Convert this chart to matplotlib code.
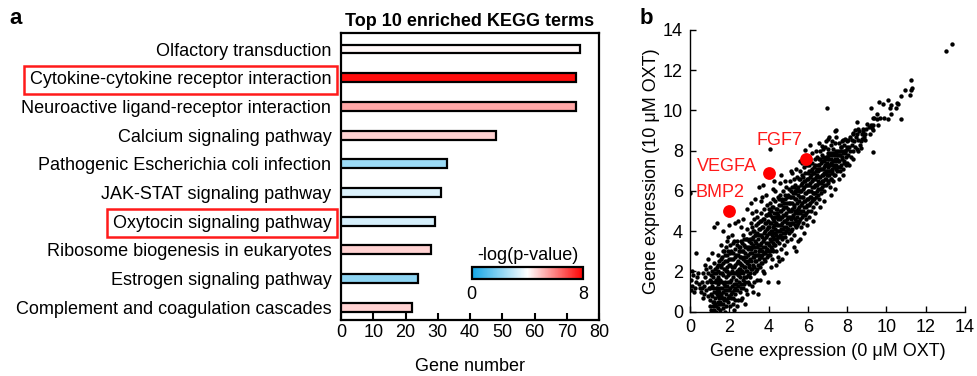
import matplotlib
matplotlib.use("Agg")
import matplotlib.pyplot as plt
import numpy as np
from matplotlib.colors import LinearSegmentedColormap, Normalize
from matplotlib.cm import ScalarMappable

plt.rcParams['font.family'] = ['Liberation Sans', 'DejaVu Sans']

# ---------------- data: panel a ----------------
kegg_terms = [
    "Olfactory transduction",
    "Cytokine-cytokine receptor interaction",
    "Neuroactive ligand-receptor interaction",
    "Calcium signaling pathway",
    "Pathogenic Escherichia coli infection",
    "JAK-STAT signaling pathway",
    "Oxytocin signaling pathway",
    "Ribosome biogenesis in eukaryotes",
    "Estrogen signaling pathway",
    "Complement and coagulation cascades",
]
gene_number = [74, 73, 73, 48, 33, 31, 29, 28, 24, 22]
neg_log_p = [4.1, 7.8, 5.4, 4.7, 2.3, 3.4, 3.3, 4.7, 2.1, 4.7]
highlighted_terms = ["Cytokine-cytokine receptor interaction", "Oxytocin signaling pathway"]
bar_xticks = [0, 10, 20, 30, 40, 50, 60, 70, 80]

# ---------------- data: panel b ----------------
expr_low = [
    (0.05,1.1),(0.1,1.3),(0.05,1.6),(0.15,1.8),(0.3,1.5),(0.25,1.2),(0.4,1.9),(0.45,1.4),(0.3,2.9),(0.0,5.9),
    (0.2,1.0),(0.35,1.7),(0.1,2.0),(0.5,1.2),
    (0.55,1.0),(0.6,1.5),(0.65,1.9),(0.7,0.9),(0.7,1.3),(0.75,1.7),(0.8,1.1),(0.8,2.1),(0.85,1.5),(0.9,0.8),
    (0.9,1.9),(0.95,1.2),(1.0,1.6),(0.6,1.2),(0.75,2.3),(0.9,2.6),(0.65,0.7),
    (1.0,0.3),(1.05,0.9),(1.1,1.3),(1.1,2.0),(1.15,0.5),(1.15,1.7),(1.2,0.1),(1.2,1.0),(1.2,2.4),(1.25,0.7),
    (1.25,1.5),(1.3,0.3),(1.3,1.2),(1.3,1.9),(1.35,0.9),(1.35,2.2),(1.4,0.5),(1.4,1.4),(1.4,1.7),(1.45,0.2),
    (1.45,1.1),(1.45,2.0),(1.5,0.7),(1.5,1.5),(1.5,2.5),(1.05,1.5),(1.12,2.9),(1.2,4.2),(1.38,4.4),(1.3,0.0),
    (1.42,2.8),(1.0,1.2),(1.18,0.3),(1.33,1.6),(1.48,1.0),
    (1.55,0.1),(1.55,1.2),(1.55,1.9),(1.6,0.4),(1.6,0.9),(1.6,2.3),(1.65,1.5),(1.65,2.7),(1.7,0.2),(1.7,1.0),
    (1.7,1.8),(1.75,0.6),(1.75,2.1),(1.75,3.0),(1.8,1.3),(1.8,2.5),(1.85,0.3),(1.85,0.9),(1.85,1.7),(1.9,2.2),
    (1.9,2.8),(1.9,1.1),(1.95,0.5),(1.95,1.5),(2.0,1.9),(2.0,2.6),(2.0,0.8),(1.6,3.3),(1.7,4.0),(1.9,3.5),
    (1.8,0.0),(1.65,0.7),(1.82,3.2),(1.58,2.6),(1.72,1.4),(1.88,2.0),(1.95,3.7),(2.0,4.3),
    (2.05,0.3),(2.05,1.2),(2.05,2.3),(2.1,0.7),(2.1,1.6),(2.1,3.0),(2.15,2.0),(2.15,1.0),(2.2,0.4),(2.2,2.6),
    (2.2,3.4),(2.25,1.4),(2.25,1.9),(2.3,0.9),(2.3,2.3),(2.3,3.1),(2.35,1.6),(2.35,2.8),(2.4,1.1),(2.4,2.0),
    (2.4,3.5),(2.45,0.6),(2.45,2.5),(2.5,1.5),(2.5,3.0),(2.5,2.1),(2.12,3.8),(2.3,4.4),(2.45,4.5),(2.22,0.1),
    (2.38,0.3),(2.28,1.2),(2.18,2.9),(2.42,1.8),(2.08,1.9),
]
expr_mid = [
    (2.55,1.0),(2.55,1.9),(2.55,2.7),(2.6,1.4),(2.6,2.3),(2.6,3.5),(2.65,0.7),(2.65,3.0),(2.65,2.0),(2.7,1.2),
    (2.7,2.6),(2.7,3.8),(2.75,1.7),(2.75,2.2),(2.75,3.3),(2.8,0.4),(2.8,1.5),(2.8,2.9),(2.85,2.0),(2.85,3.6),
    (2.85,1.1),(2.9,2.4),(2.9,3.2),(2.9,4.1),(2.95,1.8),(2.95,2.8),(3.0,2.2),(3.0,3.5),(3.0,1.4),(2.62,4.2),
    (2.88,5.1),(2.72,4.6),(2.58,0.6),(2.78,2.5),(2.68,1.6),(2.92,0.9),
    (3.05,1.7),(3.05,2.6),(3.05,3.9),(3.1,2.1),(3.1,3.1),(3.1,4.4),(3.15,1.3),(3.15,2.9),(3.15,3.6),(3.2,2.3),
    (3.2,3.3),(3.2,4.0),(3.25,1.9),(3.25,2.7),(3.25,4.6),(3.3,2.5),(3.3,3.5),(3.3,3.0),(3.35,2.0),(3.35,3.8),
    (3.35,4.3),(3.4,2.8),(3.4,3.2),(3.4,4.7),(3.45,2.3),(3.45,3.6),(3.5,3.0),(3.5,4.1),(3.5,2.6),(3.1,5.4),
    (3.3,5.6),(3.48,0.9),(3.22,1.0),(3.42,1.6),(3.18,4.9),(3.38,5.0),(3.28,1.5),
    (3.55,2.2),(3.55,3.3),(3.55,4.5),(3.6,2.7),(3.6,3.8),(3.6,4.9),(3.65,3.0),(3.65,4.2),(3.65,2.4),(3.7,3.5),
    (3.7,4.6),(3.7,2.0),(3.75,2.9),(3.75,3.9),(3.75,5.1),(3.8,3.2),(3.8,4.4),(3.8,2.5),(3.85,3.7),(3.85,4.8),
    (3.85,3.0),(3.9,4.1),(3.9,2.7),(3.9,5.3),(3.95,3.4),(3.95,4.5),(4.0,3.9),(4.0,3.0),(4.0,4.9),(3.52,6.2),
    (3.72,6.3),(3.98,1.5),(3.62,5.5),(3.88,5.8),(3.58,1.6),(3.78,1.9),(3.68,5.7),
    (4.05,2.8),(4.05,3.6),(4.05,4.4),(4.05,5.4),(4.1,3.2),(4.1,4.0),(4.1,5.0),(4.15,2.6),(4.15,3.8),(4.15,4.7),
    (4.2,3.4),(4.2,4.2),(4.2,5.6),(4.25,3.0),(4.25,3.9),(4.25,5.2),(4.3,3.6),(4.3,4.5),(4.3,4.9),(4.35,3.3),
    (4.35,4.1),(4.35,5.5),(4.4,3.8),(4.4,4.7),(4.4,3.0),(4.45,4.3),(4.45,5.1),(4.45,3.5),(4.5,4.0),(4.5,4.8),
    (4.5,5.7),(4.07,8.1),(4.5,1.5),(4.3,6.5),(4.2,6.1),(4.4,2.3),(4.12,2.2),(4.32,6.0),(4.48,2.7),
    (4.55,3.4),(4.55,4.3),(4.55,5.3),(4.6,3.8),(4.6,4.6),(4.6,5.8),(4.65,3.1),(4.65,4.1),(4.65,5.0),(4.7,3.6),
    (4.7,4.4),(4.7,5.5),(4.75,3.9),(4.75,4.8),(4.75,6.0),(4.8,3.3),(4.8,4.2),(4.8,5.2),(4.85,4.5),(4.85,5.6),
    (4.85,3.7),(4.9,4.0),(4.9,4.9),(4.9,6.2),(4.95,4.4),(4.95,5.4),(4.95,3.5),(5.0,4.7),(5.0,5.8),(5.0,4.1),
    (4.62,6.8),(4.7,2.6),(4.88,2.9),(4.58,6.4),(4.82,6.5),(4.52,2.5),
]
expr_upper = [
    (5.05,3.9),(5.05,5.0),(5.05,6.1),(5.1,4.3),(5.1,5.4),(5.1,6.5),(5.15,4.6),(5.15,5.7),(5.15,3.6),(5.2,4.1),
    (5.2,5.1),(5.2,6.2),(5.25,4.8),(5.25,5.9),(5.25,4.4),(5.3,5.3),(5.3,6.6),(5.3,3.8),(5.35,4.6),(5.35,5.6),
    (5.35,6.3),(5.4,4.2),(5.4,5.0),(5.4,6.0),(5.45,4.7),(5.45,5.4),(5.45,6.7),(5.5,4.4),(5.5,5.8),(5.5,5.1),
    (5.12,7.0),(5.28,3.2),(5.48,3.5),(5.38,7.1),(5.18,6.9),(5.42,3.0),
    (5.55,4.5),(5.55,5.5),(5.55,6.6),(5.6,4.9),(5.6,6.0),(5.6,7.0),(5.65,4.2),(5.65,5.3),(5.65,6.3),(5.7,4.7),
    (5.7,5.7),(5.7,6.8),(5.75,5.0),(5.75,6.1),(5.75,4.4),(5.8,5.5),(5.8,6.5),(5.8,7.2),(5.85,4.8),(5.85,5.9),
    (5.85,6.9),(5.9,5.2),(5.9,6.3),(5.9,4.6),(5.95,5.6),(5.95,6.6),(5.95,7.3),(6.0,5.0),(6.0,6.0),(6.0,6.9),
    (5.86,8.05),(5.58,3.6),(5.78,3.9),(5.62,7.5),(5.92,7.7),(5.72,7.4),(5.98,4.3),
    (6.05,5.3),(6.05,6.3),(6.05,7.3),(6.1,5.7),(6.1,6.7),(6.1,7.6),(6.15,5.0),(6.15,6.0),(6.15,7.0),(6.2,5.5),
    (6.2,6.5),(6.2,7.4),(6.25,5.9),(6.25,6.9),(6.25,5.2),(6.3,6.2),(6.3,7.2),(6.3,5.6),(6.35,6.6),(6.35,7.6),
    (6.35,5.9),(6.4,6.3),(6.4,7.0),(6.4,5.4),(6.45,6.8),(6.45,7.7),(6.45,6.0),(6.5,6.5),(6.5,7.3),(6.5,5.8),
    (6.12,8.3),(6.28,4.5),(6.42,8.0),(6.08,4.7),(6.22,7.9),(6.38,4.9),
    (6.55,5.6),(6.55,6.7),(6.55,7.6),(6.6,6.1),(6.6,7.1),(6.6,8.0),(6.65,6.4),(6.65,7.4),(6.65,5.9),(6.7,6.8),
    (6.7,7.8),(6.7,6.2),(6.75,7.1),(6.75,6.5),(6.75,8.1),(6.8,6.9),(6.8,7.5),(6.8,6.0),(6.85,7.3),(6.85,6.6),
    (6.85,8.2),(6.9,7.0),(6.9,7.7),(6.9,6.3),(6.95,7.4),(6.95,6.8),(7.0,7.2),(7.0,7.9),(7.0,6.5),(6.96,10.14),
    (6.7,8.24),(6.62,5.2),(6.82,5.5),(6.92,8.5),(6.58,8.4),
]
expr_high = [
    (7.05,6.4),(7.05,7.3),(7.05,8.1),(7.1,6.8),(7.1,7.6),(7.1,8.67),(7.15,6.2),(7.15,7.0),(7.15,7.9),(7.2,6.6),
    (7.2,7.4),(7.2,8.3),(7.25,7.1),(7.25,7.8),(7.25,6.9),(7.3,7.5),(7.3,8.1),(7.3,6.5),(7.35,7.2),(7.35,7.9),
    (7.4,6.8),(7.4,7.6),(7.4,8.4),(7.45,7.3),(7.45,8.0),(7.5,7.0),(7.5,7.8),(7.43,9.03),(7.45,8.7),(7.38,9.0),
    (7.04,8.6),(7.21,8.5),(7.2,5.8),(7.4,6.1),
    (7.55,7.2),(7.55,8.0),(7.6,7.5),(7.6,8.4),(7.65,7.0),(7.65,7.8),(7.7,7.3),(7.7,8.2),(7.75,7.6),(7.75,8.5),
    (7.8,7.9),(7.8,7.1),(7.85,8.3),(7.85,7.5),(7.9,8.0),(7.9,8.6),(7.95,7.7),(8.0,8.2),(8.0,7.4),(7.64,8.0),
    (7.89,8.0),(7.98,8.5),(7.81,8.53),(7.6,6.6),(7.8,6.8),
    (8.05,7.8),(8.06,8.53),(8.1,8.2),(8.15,8.0),(8.15,8.7),(8.2,7.7),(8.23,8.53),(8.25,8.3),(8.3,8.9),(8.32,8.0),
    (8.32,8.83),(8.35,8.5),(8.4,8.2),(8.4,9.03),(8.45,8.7),(8.49,9.44),(8.49,8.83),(8.5,8.1),(8.1,7.3),(8.3,7.6),
    (8.57,8.53),(8.57,9.08),(8.6,9.0),(8.65,8.3),(8.7,8.5),(8.74,8.83),(8.77,8.6),(8.79,9.0),(8.82,9.06),(8.85,8.7),
    (8.9,8.55),(8.91,8.83),(9.0,9.33),(8.55,8.0),(8.95,9.1),(8.7,8.15),
    (9.16,8.83),(9.2,9.3),(9.22,10.14),(9.25,9.11),(9.3,9.03),(9.3,9.28),(9.33,9.61),(9.33,7.95),(9.37,9.61),(9.5,9.6),
    (9.5,9.81),(9.55,9.28),(9.1,9.2),
    (9.62,10.4),(9.67,9.61),(9.81,10.3),(9.9,9.64),(10.1,10.5),(10.1,9.56),(10.18,10.14),(10.23,10.27),(10.25,9.81),
    (10.52,10.39),(10.6,10.3),(10.5,10.14),
    (10.76,9.56),(10.76,10.72),(10.97,11.0),(11.2,10.77),(11.23,11.52),(11.27,11.0),(11.29,11.1),(13.03,12.94),(13.32,13.3),
]
expr_core = [
    (1.02,0.6),(1.07,1.8),(1.12,0.8),(1.17,1.2),(1.22,1.9),(1.27,0.4),(1.32,1.0),(1.37,1.6),(1.42,0.8),(1.47,1.6),
    (1.03,2.2),(1.08,0.1),(1.13,1.5),(1.23,0.5),(1.28,2.1),(1.38,1.2),(1.43,2.3),(1.48,0.4),
    (1.52,0.5),(1.52,1.6),(1.57,2.2),(1.57,0.8),(1.62,1.2),(1.62,1.9),(1.67,0.4),(1.67,2.4),(1.72,0.7),(1.77,1.5),
    (1.77,1.1),(1.82,0.6),(1.82,2.0),(1.87,1.3),(1.87,2.5),(1.92,0.7),(1.92,1.8),(1.97,1.1),(1.97,2.3),(1.68,3.0),
    (1.93,3.0),(1.78,2.8),
    (2.02,1.5),(2.02,2.9),(2.07,0.9),(2.07,2.6),(2.12,1.3),(2.12,2.2),(2.17,0.7),(2.17,1.7),(2.22,2.2),(2.22,1.1),
    (2.27,2.7),(2.27,0.6),(2.32,1.9),(2.32,1.4),(2.37,2.4),(2.37,3.3),(2.42,1.3),(2.42,2.8),(2.47,1.9),(2.47,3.2),
    (2.04,3.3),(2.26,3.5),
    (2.52,1.7),(2.52,2.4),(2.52,3.2),(2.57,2.1),(2.57,3.0),(2.62,1.2),(2.62,2.7),(2.67,2.3),(2.67,3.4),(2.72,1.9),
    (2.72,3.0),(2.77,1.4),(2.77,2.7),(2.77,3.6),(2.82,2.2),(2.82,3.2),(2.87,1.7),(2.87,2.7),(2.92,2.0),(2.92,3.6),
    (2.97,2.5),(2.97,3.1),(2.97,1.5),
    (3.02,2.3),(3.02,3.2),(3.07,1.9),(3.07,2.9),(3.07,3.6),(3.12,2.5),(3.12,3.4),(3.17,2.1),(3.17,3.2),(3.17,4.2),
    (3.22,2.7),(3.22,3.7),(3.27,2.2),(3.27,3.2),(3.27,4.0),(3.32,2.8),(3.32,3.8),(3.37,2.5),(3.37,3.4),(3.42,2.1),
    (3.42,3.9),(3.47,2.8),(3.47,3.3),(3.47,4.4),
    (3.52,2.8),(3.52,3.8),(3.57,3.1),(3.57,4.1),(3.62,2.4),(3.62,3.4),(3.62,4.5),(3.67,2.8),(3.67,3.7),(3.72,3.2),
    (3.72,4.2),(3.77,2.6),(3.77,3.6),(3.77,4.6),(3.82,2.9),(3.82,4.0),(3.87,3.4),(3.87,4.4),(3.92,3.1),(3.92,3.8),
    (3.92,4.8),(3.97,2.8),(3.97,4.2),
    (4.02,3.3),(4.02,4.2),(4.02,5.1),(4.07,3.0),(4.07,3.9),(4.07,4.8),(4.12,3.5),(4.12,4.4),(4.17,3.1),(4.17,4.0),
    (4.17,5.2),(4.22,3.7),(4.22,4.6),(4.27,3.3),(4.27,4.3),(4.32,3.9),(4.32,4.7),(4.37,3.6),(4.37,4.4),(4.37,5.1),
    (4.42,4.0),(4.42,4.9),(4.47,3.7),(4.47,4.6),
    (4.52,3.7),(4.52,4.7),(4.52,5.6),(4.57,4.0),(4.57,5.0),(4.62,4.3),(4.62,5.3),(4.67,3.7),(4.67,4.7),(4.67,5.6),
    (4.72,4.1),(4.72,5.1),(4.77,4.5),(4.77,5.4),(4.82,3.9),(4.82,4.8),(4.82,5.8),(4.87,4.2),(4.87,5.2),(4.92,4.6),
    (4.92,5.7),(4.97,4.1),(4.97,5.1),
    (5.02,4.4),(5.02,5.4),(5.07,4.7),(5.07,5.7),(5.12,4.0),(5.12,5.0),(5.12,6.0),(5.17,4.4),(5.17,5.4),(5.22,4.7),
    (5.22,5.7),(5.27,5.2),(5.27,6.2),(5.32,4.3),(5.32,5.0),(5.32,5.9),(5.37,4.9),(5.37,6.0),(5.42,4.5),(5.42,5.6),
    (5.47,5.0),(5.47,6.1),(5.47,4.3),
    (5.52,4.9),(5.52,6.2),(5.57,5.2),(5.57,6.0),(5.62,4.6),(5.62,5.7),(5.62,6.6),(5.67,5.0),(5.67,6.0),(5.72,5.4),
    (5.72,6.4),(5.77,4.8),(5.77,5.7),(5.77,6.7),(5.82,5.2),(5.82,6.2),(5.87,5.5),(5.87,6.5),(5.92,4.9),(5.92,5.9),
    (5.97,5.3),(5.97,6.3),
    (6.02,5.6),(6.02,6.6),(6.07,6.0),(6.07,7.0),(6.12,5.4),(6.12,6.4),(6.17,5.7),(6.17,6.8),(6.22,6.2),(6.22,7.1),
    (6.27,5.6),(6.27,6.6),(6.32,5.9),(6.32,6.9),(6.37,6.3),(6.37,7.3),(6.42,5.7),(6.42,6.7),(6.47,6.3),(6.47,7.1),
    (6.52,6.1),(6.52,7.0),(6.57,6.4),(6.57,7.3),(6.62,6.7),(6.62,7.6),(6.67,6.1),(6.67,7.1),(6.72,6.5),(6.72,7.5),
    (6.77,6.8),(6.77,7.7),(6.82,6.3),(6.82,7.2),(6.87,6.9),(6.87,7.6),(6.92,6.6),(6.92,7.3),(6.97,7.0),(6.97,7.7),
    (7.02,6.8),(7.02,7.6),(7.07,7.0),(7.07,7.8),(7.12,7.3),(7.17,6.6),(7.17,7.6),(7.22,7.0),(7.22,7.9),(7.27,7.3),
    (7.32,6.8),(7.32,7.8),(7.37,7.5),(7.42,7.1),(7.42,7.9),(7.47,7.6),
    (7.52,7.5),(7.57,7.8),(7.62,7.2),(7.67,8.2),(7.72,7.7),(7.77,8.0),(7.82,7.4),(7.87,7.9),(7.92,7.3),(7.97,8.1),
]
genes_highlight = ["BMP2", "VEGFA", "FGF7"]
highlight_x = [2.0, 4.0, 5.9]
highlight_y = [5.0, 6.9, 7.6]
scatter_ticks = [0, 2, 4, 6, 8, 10, 12, 14]

# ---------------- figure ----------------
W, H = 977, 376
fig = plt.figure(figsize=(W / 100, H / 100), dpi=100)
FS = 13

def fx(px):
    return px / W

def fy(py):
    return 1 - py / H

cmap = LinearSegmentedColormap.from_list("bwr_kegg", [(0, "#12a6e6"), (0.5, "#ffffff"), (1, "#ff0000")])
norm = Normalize(0, 8)

# Panel a
ax = fig.add_axes([fx(341), fy(320), fx(599) - fx(341), fy(33) - fy(320)])
ypos = np.arange(len(kegg_terms))
ax.barh(ypos, gene_number, height=0.31, color=cmap(norm(np.array(neg_log_p))),
        edgecolor="black", linewidth=1.6, zorder=3)
ax.set_ylim(9.45, -0.56)
ax.set_xlim(0, 80)
ax.set_xticks(bar_xticks)
ax.set_yticks(ypos)
ax.set_yticklabels(kegg_terms, fontsize=FS)
ax.tick_params(axis="y", length=0, pad=7)
ax.tick_params(axis="x", direction="in", length=5, width=1.5, labelsize=FS, pad=3)
for sp in ax.spines.values():
    sp.set_linewidth(1.6)
for lab in ax.get_yticklabels():
    if lab.get_text() in highlighted_terms:
        lab.set_bbox(dict(boxstyle="square,pad=0.3", fc="none", ec="#ff1a1a", lw=1.8))
ax.set_xlabel("Gene number", fontsize=FS, labelpad=12)
ax.set_title("Top 10 enriched KEGG terms", fontsize=FS, fontweight="bold", pad=5)

cax = fig.add_axes([fx(471.7), fy(279), fx(583.3) - fx(471.7), fy(267.3) - fy(279)])
cb = fig.colorbar(ScalarMappable(norm=norm, cmap=cmap), cax=cax, orientation="horizontal", ticks=[0, 8])
cb.outline.set_linewidth(1.6)
cax.tick_params(length=0, labelsize=FS, pad=5)
cax.set_title("-log(p-value)", fontsize=FS, pad=5)

fig.text(fx(9), fy(18), "a", fontsize=16, fontweight="bold", va="center", ha="left")
fig.text(fx(640), fy(18), "b", fontsize=16, fontweight="bold", va="center", ha="left")

# Panel b
bx = fig.add_axes([fx(690), fy(311.7), fx(965) - fx(690), fy(30) - fy(311.7)])
pts = np.array(expr_low + expr_mid + expr_upper + expr_high + expr_core)
bx.scatter(pts[:, 0], pts[:, 1], s=10, c="black", linewidths=0, zorder=2)
bx.scatter(highlight_x, highlight_y, s=85, c="#ff0000", linewidths=0, zorder=3)
label_pos = {"BMP2": (1.53, 5.9), "VEGFA": (1.9, 7.2), "FGF7": (4.55, 8.5)}
for g in genes_highlight:
    x, y = label_pos[g]
    bx.text(x, y, g, color="#ff1a1a", fontsize=FS, ha="center", va="center")
bx.set_xlim(0, 14)
bx.set_ylim(0, 14)
bx.set_xticks(scatter_ticks)
bx.set_yticks(scatter_ticks)
bx.spines["top"].set_visible(False)
bx.spines["right"].set_visible(False)
for s in ("left", "bottom"):
    bx.spines[s].set_linewidth(1.0)
bx.tick_params(direction="in", length=4, width=1.0, labelsize=FS, pad=5)
bx.set_xlabel("Gene expression (0 μM OXT)", fontsize=FS, labelpad=5)
bx.set_ylabel("Gene expression (10 μM OXT)", fontsize=FS, labelpad=2)

fig.savefig("out.png", dpi=100)
